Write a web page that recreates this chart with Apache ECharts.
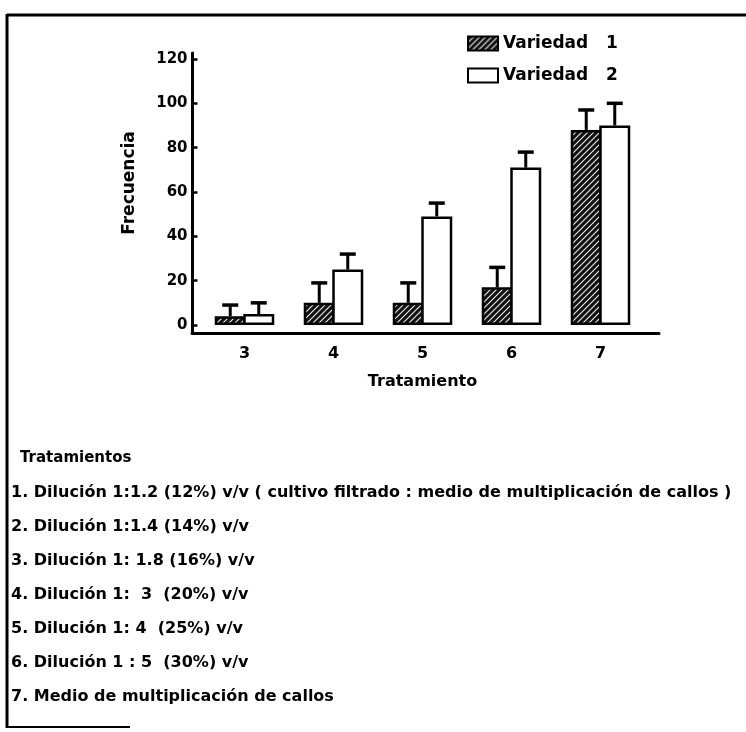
<!DOCTYPE html>
<html><head><meta charset="utf-8">
<script src="https://cdn.jsdelivr.net/npm/echarts@6/dist/echarts.min.js"></script>
<style>html,body{margin:0;padding:0;background:#fff}#c{width:746px;height:732px}</style>
</head><body><div id="c"></div>
<script>
const categories = ['3', '4', '5', '6', '7'];
const seriesNames = ['Variedad 1', 'Variedad 2'];
const variedad1 = [4, 10, 10, 17, 88];
const variedad2 = [5, 25, 49, 71, 90];
const variedad1Err = [9, 19, 19, 26, 97];
const variedad2Err = [10, 32, 55, 78, 100];
const yTicks = [0, 20, 40, 60, 80, 100, 120];
const yName = 'Frecuencia';
const xName = 'Tratamiento';
const notesTitle = 'Tratamientos';
const notes = [
  '1. Dilución 1:1.2 (12%) v/v ( cultivo filtrado : medio de multiplicación de callos )',
  '2. Dilución 1:1.4 (14%) v/v',
  '3. Dilución 1: 1.8 (16%) v/v',
  '4. Dilución 1:  3  (20%) v/v',
  '5. Dilución 1: 4  (25%) v/v',
  '6. Dilución 1 : 5  (30%) v/v',
  '7. Medio de multiplicación de callos'
];

const FONT = 'DejaVu Sans';
const BAR_W = 31;
const BAR_GAP = -0.08;

function hatch() {
  const c = document.createElement('canvas'); c.width = 6; c.height = 6;
  const g = c.getContext('2d');
  g.fillStyle = '#111'; g.fillRect(0, 0, 6, 6);
  g.strokeStyle = '#eee'; g.lineWidth = 1.1;
  g.beginPath();
  g.moveTo(0, 6); g.lineTo(6, 0);
  g.moveTo(-3, 3); g.lineTo(3, -3);
  g.moveTo(3, 9); g.lineTo(9, 3);
  g.stroke();
  return c;
}
const hatchPattern = { image: hatch(), repeat: 'repeat' };

function errRender(sign) {
  return function (params, api) {
    const x = api.value(0);
    const p0 = api.coord([x, api.value(1)]);
    const p1 = api.coord([x, api.value(2)]);
    const cx = p0[0] + sign * BAR_W * (1 + BAR_GAP) / 2;
    return { type: 'group', children: [
      { type: 'line', shape: { x1: cx, y1: p0[1], x2: cx, y2: p1[1] }, style: { stroke: '#000', lineWidth: 3 } },
      { type: 'line', shape: { x1: cx - 8, y1: p1[1], x2: cx + 8, y2: p1[1] }, style: { stroke: '#000', lineWidth: 3.5 } }
    ]};
  };
}

const noteGraphics = [{
  type: 'text', left: 20, top: 451,
  style: { text: notesTitle, font: 'bold 15px "' + FONT + '"', fill: '#000' }
}];
notes.forEach((t, i) => {
  noteGraphics.push({
    type: 'text', left: 11, top: 485 + i * 34,
    style: { text: t, font: 'bold 16px "' + FONT + '"', fill: '#000' }
  });
});

const chart = echarts.init(document.getElementById('c'), null, { renderer: 'canvas' });
chart.setOption({
  animation: false,
  backgroundColor: '#fff',
  textStyle: { fontFamily: FONT, fontWeight: 'bold', color: '#000' },
  legend: {
    orient: 'vertical', left: 462, top: 30, itemWidth: 30, itemHeight: 14, itemGap: 15,
    icon: 'rect',
    formatter: function (n) { return n.replace(' ', '   '); },
    textStyle: { fontSize: 17, fontWeight: 'bold', color: '#000', fontFamily: FONT },
    data: seriesNames
  },
  grid: [
    { left: 200, width: 445, top: 53, height: 280 },
    { left: 192, width: 467, top: 53, height: 280 }
  ],
  xAxis: [
    {
      type: 'category', gridIndex: 0, data: categories,
      axisLine: { show: false, onZero: false }, axisTick: { show: false },
      axisLabel: { fontSize: 16, fontWeight: 'bold', color: '#000', margin: 13 },
      name: xName, nameLocation: 'middle', nameGap: 41,
      nameTextStyle: { fontSize: 16, fontWeight: 'bold', color: '#000' }
    },
    {
      type: 'value', gridIndex: 1, min: 0, max: 1,
      axisLine: { show: true, onZero: false, lineStyle: { color: '#000', width: 3 } },
      axisTick: { show: false }, axisLabel: { show: false }, splitLine: { show: false }
    }
  ],
  yAxis: [
    {
      type: 'value', gridIndex: 0, min: -3.6, max: 122.7, offset: 7.5,
      axisLine: { show: true, lineStyle: { color: '#000', width: 3 } },
      axisTick: { show: true, inside: true, length: 5, customValues: yTicks, lineStyle: { color: '#000', width: 2.5 } },
      axisLabel: { customValues: yTicks, fontSize: 15, fontWeight: 'bold', color: '#000', margin: 5 },
      splitLine: { show: false },
      name: yName, nameLocation: 'middle', nameGap: 54, nameRotate: 90,
      nameTextStyle: { fontSize: 17, fontWeight: 'bold', color: '#000', padding: [0, 0, 0, 20] }
    },
    { type: 'value', gridIndex: 1, show: false, min: 0, max: 1 }
  ],
  series: [
    {
      name: seriesNames[0], type: 'bar', data: variedad1, barWidth: BAR_W, barGap: (BAR_GAP * 100) + '%',
      itemStyle: { color: hatchPattern, borderColor: '#000', borderWidth: 2.5 }
    },
    {
      name: seriesNames[1], type: 'bar', data: variedad2, barWidth: BAR_W, barGap: (BAR_GAP * 100) + '%',
      itemStyle: { color: '#fff', borderColor: '#000', borderWidth: 2.5 }
    },
    {
      type: 'custom', renderItem: errRender(-1), z: 3,
      data: categories.map((c, i) => [i, variedad1[i], variedad1Err[i]]),
      encode: { x: 0, y: [1, 2] }
    },
    {
      type: 'custom', renderItem: errRender(1), z: 3,
      data: categories.map((c, i) => [i, variedad2[i], variedad2Err[i]]),
      encode: { x: 0, y: [1, 2] }
    }
  ],
  graphic: [
    { type: 'line', shape: { x1: 7, y1: 15, x2: 746, y2: 15 }, style: { stroke: '#000', lineWidth: 3 } },
    { type: 'line', shape: { x1: 7, y1: 14, x2: 7, y2: 728 }, style: { stroke: '#000', lineWidth: 3 } },
    { type: 'line', shape: { x1: 6, y1: 727, x2: 130, y2: 727 }, style: { stroke: '#000', lineWidth: 2 } }
  ].concat(noteGraphics)
});
</script></body></html>
